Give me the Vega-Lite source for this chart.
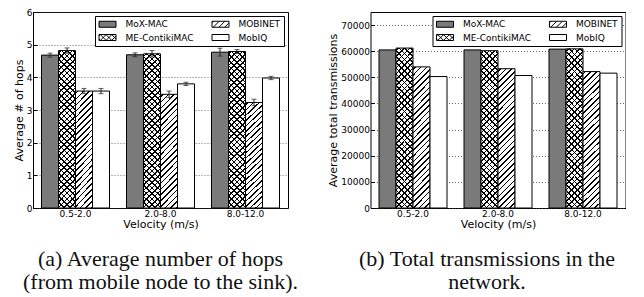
{
"$schema":"https://vega.github.io/schema/vega-lite/v6.json",
"padding":{"left":12,"top":7,"right":0,"bottom":0},
"bounds":"flush",
"spacing":82.5,
"params":[{"name":"hs","value":[
{"offset":0,"color":"#0000"},
{"offset":0.0094,"color":"#0000"},{"offset":0.0094,"color":"#000"},{"offset":0.0182,"color":"#000"},{"offset":0.0182,"color":"#0000"},
{"offset":0.0406,"color":"#0000"},{"offset":0.0406,"color":"#000"},{"offset":0.0494,"color":"#000"},{"offset":0.0494,"color":"#0000"},
{"offset":0.0719,"color":"#0000"},{"offset":0.0719,"color":"#000"},{"offset":0.0807,"color":"#000"},{"offset":0.0807,"color":"#0000"},
{"offset":0.1031,"color":"#0000"},{"offset":0.1031,"color":"#000"},{"offset":0.1119,"color":"#000"},{"offset":0.1119,"color":"#0000"},
{"offset":0.1344,"color":"#0000"},{"offset":0.1344,"color":"#000"},{"offset":0.1432,"color":"#000"},{"offset":0.1432,"color":"#0000"},
{"offset":0.1656,"color":"#0000"},{"offset":0.1656,"color":"#000"},{"offset":0.1744,"color":"#000"},{"offset":0.1744,"color":"#0000"},
{"offset":0.1969,"color":"#0000"},{"offset":0.1969,"color":"#000"},{"offset":0.2057,"color":"#000"},{"offset":0.2057,"color":"#0000"},
{"offset":0.2281,"color":"#0000"},{"offset":0.2281,"color":"#000"},{"offset":0.2369,"color":"#000"},{"offset":0.2369,"color":"#0000"},
{"offset":0.2594,"color":"#0000"},{"offset":0.2594,"color":"#000"},{"offset":0.2682,"color":"#000"},{"offset":0.2682,"color":"#0000"},
{"offset":0.2906,"color":"#0000"},{"offset":0.2906,"color":"#000"},{"offset":0.2994,"color":"#000"},{"offset":0.2994,"color":"#0000"},
{"offset":0.3219,"color":"#0000"},{"offset":0.3219,"color":"#000"},{"offset":0.3307,"color":"#000"},{"offset":0.3307,"color":"#0000"},
{"offset":0.3531,"color":"#0000"},{"offset":0.3531,"color":"#000"},{"offset":0.3619,"color":"#000"},{"offset":0.3619,"color":"#0000"},
{"offset":0.3844,"color":"#0000"},{"offset":0.3844,"color":"#000"},{"offset":0.3932,"color":"#000"},{"offset":0.3932,"color":"#0000"},
{"offset":0.4156,"color":"#0000"},{"offset":0.4156,"color":"#000"},{"offset":0.4244,"color":"#000"},{"offset":0.4244,"color":"#0000"},
{"offset":0.4469,"color":"#0000"},{"offset":0.4469,"color":"#000"},{"offset":0.4557,"color":"#000"},{"offset":0.4557,"color":"#0000"},
{"offset":0.4781,"color":"#0000"},{"offset":0.4781,"color":"#000"},{"offset":0.4869,"color":"#000"},{"offset":0.4869,"color":"#0000"},
{"offset":0.5094,"color":"#0000"},{"offset":0.5094,"color":"#000"},{"offset":0.5182,"color":"#000"},{"offset":0.5182,"color":"#0000"},
{"offset":0.5406,"color":"#0000"},{"offset":0.5406,"color":"#000"},{"offset":0.5494,"color":"#000"},{"offset":0.5494,"color":"#0000"},
{"offset":0.5719,"color":"#0000"},{"offset":0.5719,"color":"#000"},{"offset":0.5807,"color":"#000"},{"offset":0.5807,"color":"#0000"},
{"offset":0.6031,"color":"#0000"},{"offset":0.6031,"color":"#000"},{"offset":0.6119,"color":"#000"},{"offset":0.6119,"color":"#0000"},
{"offset":0.6344,"color":"#0000"},{"offset":0.6344,"color":"#000"},{"offset":0.6432,"color":"#000"},{"offset":0.6432,"color":"#0000"},
{"offset":0.6656,"color":"#0000"},{"offset":0.6656,"color":"#000"},{"offset":0.6744,"color":"#000"},{"offset":0.6744,"color":"#0000"},
{"offset":0.6969,"color":"#0000"},{"offset":0.6969,"color":"#000"},{"offset":0.7057,"color":"#000"},{"offset":0.7057,"color":"#0000"},
{"offset":0.7281,"color":"#0000"},{"offset":0.7281,"color":"#000"},{"offset":0.7369,"color":"#000"},{"offset":0.7369,"color":"#0000"},
{"offset":0.7594,"color":"#0000"},{"offset":0.7594,"color":"#000"},{"offset":0.7682,"color":"#000"},{"offset":0.7682,"color":"#0000"},
{"offset":0.7906,"color":"#0000"},{"offset":0.7906,"color":"#000"},{"offset":0.7994,"color":"#000"},{"offset":0.7994,"color":"#0000"},
{"offset":0.8219,"color":"#0000"},{"offset":0.8219,"color":"#000"},{"offset":0.8307,"color":"#000"},{"offset":0.8307,"color":"#0000"},
{"offset":0.8531,"color":"#0000"},{"offset":0.8531,"color":"#000"},{"offset":0.8619,"color":"#000"},{"offset":0.8619,"color":"#0000"},
{"offset":0.8844,"color":"#0000"},{"offset":0.8844,"color":"#000"},{"offset":0.8932,"color":"#000"},{"offset":0.8932,"color":"#0000"},
{"offset":0.9156,"color":"#0000"},{"offset":0.9156,"color":"#000"},{"offset":0.9244,"color":"#000"},{"offset":0.9244,"color":"#0000"},
{"offset":0.9469,"color":"#0000"},{"offset":0.9469,"color":"#000"},{"offset":0.9557,"color":"#000"},{"offset":0.9557,"color":"#0000"},
{"offset":0.9781,"color":"#0000"},{"offset":0.9781,"color":"#000"},{"offset":0.9869,"color":"#000"},{"offset":0.9869,"color":"#0000"},
{"offset":1,"color":"#0000"}
]}],
"datasets":{
"hops":[
{"group":"0.5-2.0","series":"MoX-MAC","value":4.68,"lo":4.62,"hi":4.74},
{"group":"0.5-2.0","series":"ME-ContikiMAC","value":4.82,"lo":4.74,"hi":4.9},
{"group":"0.5-2.0","series":"MOBINET","value":3.58,"lo":3.5,"hi":3.66},
{"group":"0.5-2.0","series":"MobIQ","value":3.58,"lo":3.5,"hi":3.66},
{"group":"2.0-8.0","series":"MoX-MAC","value":4.69,"lo":4.63,"hi":4.75},
{"group":"2.0-8.0","series":"ME-ContikiMAC","value":4.72,"lo":4.62,"hi":4.82},
{"group":"2.0-8.0","series":"MOBINET","value":3.48,"lo":3.38,"hi":3.58},
{"group":"2.0-8.0","series":"MobIQ","value":3.8,"lo":3.75,"hi":3.85},
{"group":"8.0-12.0","series":"MoX-MAC","value":4.77,"lo":4.65,"hi":4.89},
{"group":"8.0-12.0","series":"ME-ContikiMAC","value":4.79,"lo":4.73,"hi":4.85},
{"group":"8.0-12.0","series":"MOBINET","value":3.23,"lo":3.13,"hi":3.33},
{"group":"8.0-12.0","series":"MobIQ","value":3.98,"lo":3.93,"hi":4.03}
],
"tx":[
{"group":"0.5-2.0","series":"MoX-MAC","value":60500},
{"group":"0.5-2.0","series":"ME-ContikiMAC","value":61200},
{"group":"0.5-2.0","series":"MOBINET","value":54000},
{"group":"0.5-2.0","series":"MobIQ","value":50300},
{"group":"2.0-8.0","series":"MoX-MAC","value":60500},
{"group":"2.0-8.0","series":"ME-ContikiMAC","value":60200},
{"group":"2.0-8.0","series":"MOBINET","value":53300},
{"group":"2.0-8.0","series":"MobIQ","value":50700},
{"group":"8.0-12.0","series":"MoX-MAC","value":60800},
{"group":"8.0-12.0","series":"ME-ContikiMAC","value":60900},
{"group":"8.0-12.0","series":"MOBINET","value":52200},
{"group":"8.0-12.0","series":"MobIQ","value":51600}
]
},
"hconcat":[
{
"width":255,"height":196,
"data":{"name":"hops"},
"title":{"text":["(a) Average number of hops","(from mobile node to the sink)."],"orient":"bottom","anchor":"middle","offset":20,"baseline":"top","lineHeight":23,"font":"Liberation Serif","fontSize":22,"fontWeight":"normal","color":"#111"},
"encoding":{
"x":{"field":"group","type":"nominal","sort":["0.5-2.0","2.0-8.0","8.0-12.0"],"scale":{"paddingInner":0.2,"paddingOuter":0.1},"axis":{"title":"Velocity (m/s)","labelAngle":0,"tickSize":-4,"labelPadding":5,"titlePadding":0}},
"xOffset":{"field":"series","type":"nominal","scale":{"domain":["MoX-MAC","ME-ContikiMAC","MOBINET","MobIQ"],"paddingInner":0,"paddingOuter":0}},
"y":{"field":"value","type":"quantitative","title":"Average # of hops","scale":{"domain":[0,6]},"axis":{"values":[0,1,2,3,4,5,6],"grid":true,"tickSize":-4,"labelPadding":5,"titlePadding":2}}
},
"layer":[
{"mark":{"type":"bar","stroke":"black","strokeWidth":1},"encoding":{"fill":{"condition":{"test":"datum.series === 'MoX-MAC'","value":"#7a7a7a"},"value":"white"}}},
{"transform":[{"filter":"datum.series === 'MOBINET'"}],"mark":{"type":"bar","strokeWidth":0,"fill":{"expr":"{gradient:'linear',x1:0,y1:0,x2:0.2417,y2:1.592,stops:hs}"}}},
{"transform":[{"filter":"datum.series === 'ME-ContikiMAC'"}],"mark":{"type":"bar","strokeWidth":0,"fill":{"expr":"{gradient:'linear',x1:0,y1:0,x2:0.1244,y2:1.1484,stops:hs}"}}},
{"transform":[{"filter":"datum.series === 'ME-ContikiMAC'"}],"mark":{"type":"bar","strokeWidth":0,"fill":{"expr":"{gradient:'linear',x1:1,y1:0,x2:0.8756,y2:1.1484,stops:hs}"}}},
{"mark":{"type":"rule","color":"#222","strokeWidth":1},"encoding":{"y":{"field":"lo","type":"quantitative","title":"Average # of hops"},"y2":{"field":"hi"}}},
{"mark":{"type":"tick","color":"#222","size":5,"thickness":1},"encoding":{"y":{"field":"lo","type":"quantitative","title":"Average # of hops"}}},
{"mark":{"type":"tick","color":"#222","size":5,"thickness":1},"encoding":{"y":{"field":"hi","type":"quantitative","title":"Average # of hops"}}},
{"transform":[{"filter":"false"}],"mark":{"type":"point","filled":true,"opacity":1},"encoding":{
"color":{"field":"series","type":"nominal","scale":{"domain":["MoX-MAC","ME-ContikiMAC","MOBINET","MobIQ"],"range":["#7a7a7a","white","white","white"]},"legend":{"title":null,"encode":{"symbols":{"update":{"stroke":{"value":"black"},"strokeWidth":{"value":1}}}}}},
"shape":{"field":"series","type":"nominal","scale":{"domain":["MoX-MAC","ME-ContikiMAC","MOBINET","MobIQ"],"range":["M-1,-0.75H3.25V0.75H-1Z","M-1,-0.75H3.25V0.75H-1ZM-1,-0.375L-0.625,-0.75M-0.7,0.75L0.8,-0.75M0.725,0.75L2.225,-0.75M2.15,0.75L3.25,-0.35M-1,0.375L-0.625,0.75M-0.7,-0.75L0.8,0.75M0.725,-0.75L2.225,0.75M2.15,-0.75L3.25,0.35","M-1,-0.75H3.25V0.75H-1ZM-1,-0.375L-0.625,-0.75M-0.7,0.75L0.8,-0.75M0.725,0.75L2.225,-0.75M2.15,0.75L3.25,-0.35","M-1,-0.75H3.25V0.75H-1Z"]},"legend":{"title":null}}
}}
]
},
{
"width":255,"height":196,
"data":{"name":"tx"},
"title":{"text":["(b) Total transmissions in the","network."],"orient":"bottom","anchor":"middle","dx":-11,"offset":20,"baseline":"top","lineHeight":23,"font":"Liberation Serif","fontSize":22,"fontWeight":"normal","color":"#111"},
"encoding":{
"x":{"field":"group","type":"nominal","sort":["0.5-2.0","2.0-8.0","8.0-12.0"],"scale":{"paddingInner":0.2,"paddingOuter":0.1},"axis":{"title":"Velocity (m/s)","labelAngle":0,"tickSize":-4,"labelPadding":5,"titlePadding":0}},
"xOffset":{"field":"series","type":"nominal","scale":{"domain":["MoX-MAC","ME-ContikiMAC","MOBINET","MobIQ"],"paddingInner":0,"paddingOuter":0}},
"y":{"field":"value","type":"quantitative","title":"Average total transmissions","scale":{"domain":[0,75000]},"axis":{"values":[0,10000,20000,30000,40000,50000,60000,70000],"format":"d","grid":true,"tickSize":-4,"labelPadding":5,"titlePadding":2}}
},
"layer":[
{"mark":{"type":"bar","stroke":"black","strokeWidth":1},"encoding":{"fill":{"condition":{"test":"datum.series === 'MoX-MAC'","value":"#7a7a7a"},"value":"white"}}},
{"transform":[{"filter":"datum.series === 'MOBINET'"}],"mark":{"type":"bar","strokeWidth":0,"fill":{"expr":"{gradient:'linear',x1:0,y1:0,x2:0.1581,y2:1.2929,stops:hs}"}}},
{"transform":[{"filter":"datum.series === 'ME-ContikiMAC'"}],"mark":{"type":"bar","strokeWidth":0,"fill":{"expr":"{gradient:'linear',x1:0,y1:0,x2:0.1244,y2:1.1484,stops:hs}"}}},
{"transform":[{"filter":"datum.series === 'ME-ContikiMAC'"}],"mark":{"type":"bar","strokeWidth":0,"fill":{"expr":"{gradient:'linear',x1:1,y1:0,x2:0.8756,y2:1.1484,stops:hs}"}}},
{"transform":[{"filter":"false"}],"mark":{"type":"point","filled":true,"opacity":1},"encoding":{
"color":{"field":"series","type":"nominal","scale":{"domain":["MoX-MAC","ME-ContikiMAC","MOBINET","MobIQ"],"range":["#7a7a7a","white","white","white"]},"legend":{"title":null,"encode":{"symbols":{"update":{"stroke":{"value":"black"},"strokeWidth":{"value":1}}}}}},
"shape":{"field":"series","type":"nominal","scale":{"domain":["MoX-MAC","ME-ContikiMAC","MOBINET","MobIQ"],"range":["M-1,-0.75H3.25V0.75H-1Z","M-1,-0.75H3.25V0.75H-1ZM-1,-0.375L-0.625,-0.75M-0.7,0.75L0.8,-0.75M0.725,0.75L2.225,-0.75M2.15,0.75L3.25,-0.35M-1,0.375L-0.625,0.75M-0.7,-0.75L0.8,0.75M0.725,-0.75L2.225,0.75M2.15,-0.75L3.25,0.35","M-1,-0.75H3.25V0.75H-1ZM-1,-0.375L-0.625,-0.75M-0.7,0.75L0.8,-0.75M0.725,0.75L2.225,-0.75M2.15,0.75L3.25,-0.35","M-1,-0.75H3.25V0.75H-1Z"]},"legend":{"title":null}}
}}
]
}
],
"resolve":{"scale":{"color":"independent","shape":"independent"},"legend":{"color":"independent","shape":"independent"}},
"config":{
"font":"DejaVu Sans",
"view":{"stroke":"black","strokeWidth":1},
"axis":{"domain":false,"labelFont":"DejaVu Sans","labelFontSize":9,"labelColor":"black","titleFont":"DejaVu Sans","titleFontSize":11,"titleFontWeight":"normal","titleColor":"black","tickColor":"black","tickWidth":1,"gridColor":"#444","gridDash":[1,2],"gridWidth":0.8},
"axisX":{"grid":false},
"legend":{"orient":"top-right","offset":4,"columns":2,"padding":3.5,"strokeColor":"black","fillColor":"white","cornerRadius":0,"labelFont":"DejaVu Sans","labelFontSize":9,"labelColor":"black","labelOffset":18,"rowPadding":2.5,"columnPadding":16,"symbolSize":64,"symbolStrokeColor":"black","symbolStrokeWidth":1,"symbolOffset":0}
}
}
